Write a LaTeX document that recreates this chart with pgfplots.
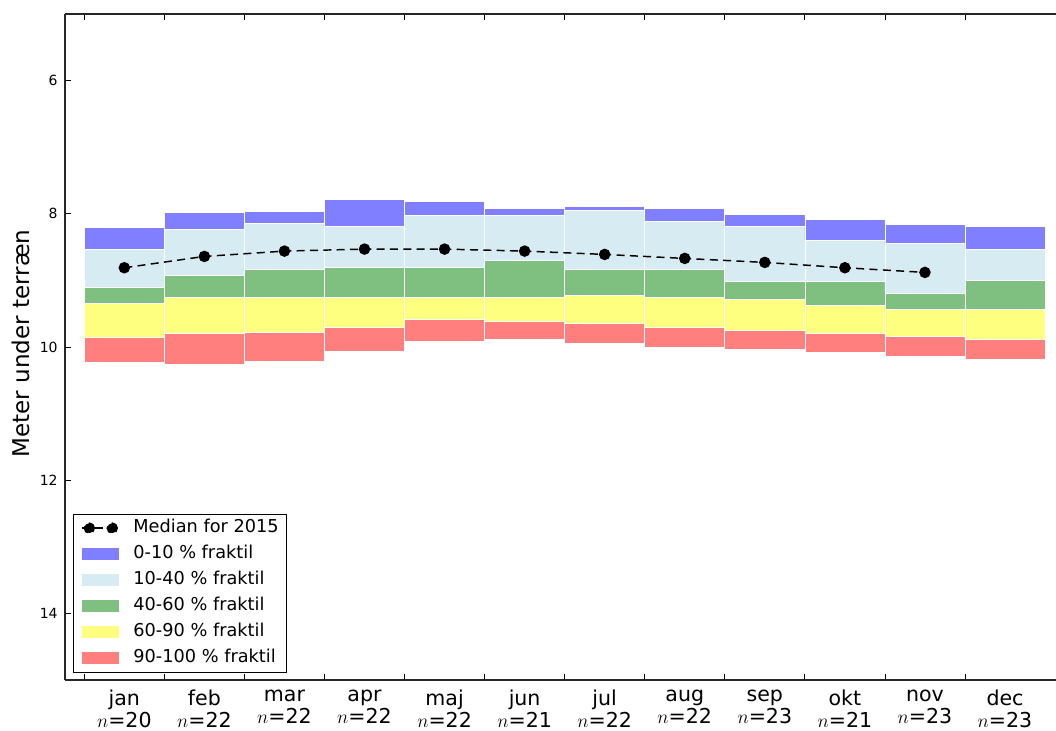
\documentclass[border=0pt]{standalone}
\usepackage{fontspec}
\setmainfont{DejaVu Sans}
\usepackage{pgfplots}
\usepackage{pgfplotstable}
\pgfplotsset{compat=1.18}
\definecolor{cblue}{RGB}{127,127,255}
\definecolor{clight}{RGB}{214,235,242}
\definecolor{cgreen}{RGB}{127,191,127}
\definecolor{cyellow}{RGB}{255,255,127}
\definecolor{cred}{RGB}{255,127,127}

\pgfplotstableread{
x    top  b1   b2   b3   b4   bot
0.5  8.20 8.54 9.10 9.35 9.85 10.23
1.5  7.98 8.24 8.93 9.26 9.80 10.26
2.5  7.97 8.14 8.83 9.26 9.78 10.21
3.5  7.79 8.19 8.81 9.25 9.70 10.06
4.5  7.82 8.02 8.80 9.25 9.59 9.91
5.5  7.92 8.02 8.70 9.25 9.62 9.89
6.5  7.89 7.95 8.84 9.23 9.64 9.95
7.5  7.92 8.11 8.84 9.26 9.70 10.01
8.5  8.01 8.19 9.01 9.28 9.75 10.04
9.5  8.09 8.40 9.02 9.38 9.80 10.08
10.5 8.16 8.44 9.20 9.43 9.84 10.14
11.5 8.19 8.53 9.00 9.43 9.89 10.18
}\bands

\begin{document}
\begin{tikzpicture}
\begin{axis}[
  scale only axis, width=743.25pt, height=499.5pt,
  xmin=-0.241, xmax=12.137, ymin=5, ymax=15, y dir=reverse,
  axis x line*=box, axis y line*=left,
  axis on top,
  xtick={0,...,11}, xticklabels={},
  ytick={6,8,10,12,14},
  tick align=inside, major tick length=4.5pt,
  tick style={black, line width=0.6pt},
  axis line style={line width=1pt, black!85},
  extra x ticks={0.5,1.5,...,11.5},
  extra x tick labels={{jan\\$n$=20},{feb\\$n$=22},{mar\\$n$=22},{apr\\$n$=22},{maj\\$n$=22},{jun\\$n$=21},{jul\\$n$=22},{aug\\$n$=22},{sep\\$n$=23},{okt\\$n$=21},{nov\\$n$=23},{dec\\$n$=23}},
  extra x tick style={major tick length=0pt, tick label style={align=center, yshift=-4pt, font=\fontsize{15.4}{16.5}\selectfont}},
  yticklabel style={font=\fontsize{10.5}{12}\selectfont, xshift=-2pt},
  /pgf/number format/assume math mode=true,
  ylabel={Meter under terræn},
  ylabel style={at={(axis description cs:-0.0444,0.505)}, anchor=center, font=\fontsize{17.3}{20}\selectfont},
  reverse legend,
  legend style={at={(axis description cs:0,0)}, anchor=south west, xshift=5.8pt, yshift=5.5pt,
    draw=black, line width=0.8pt, font=\fontsize{13.3}{16}\selectfont,
    inner xsep=6pt, inner ysep=4pt, column sep=11pt, row sep=6.5pt,
    nodes={inner sep=0pt, text height=10pt, text depth=3pt}},
  legend cell align=left,
]
\addplot[ybar, bar width=1, bar shift=0pt, fill=cred, draw=white, line width=0.5pt,
  legend image code/.code={\fill[cred] (0pt,-4pt) rectangle (27pt,4pt);}]
  table[x=x,y=bot]{\bands};
\addlegendentry{90-100 \% fraktil}
\addplot[ybar, bar width=1, bar shift=0pt, fill=cyellow, draw=white, line width=0.5pt,
  legend image code/.code={\fill[cyellow] (0pt,-4pt) rectangle (27pt,4pt);}]
  table[x=x,y=b4]{\bands};
\addlegendentry{60-90 \% fraktil}
\addplot[ybar, bar width=1, bar shift=0pt, fill=cgreen, draw=white, line width=0.5pt,
  legend image code/.code={\fill[cgreen] (0pt,-4pt) rectangle (27pt,4pt);}]
  table[x=x,y=b3]{\bands};
\addlegendentry{40-60 \% fraktil}
\addplot[ybar, bar width=1, bar shift=0pt, fill=clight, draw=white, line width=0.5pt,
  legend image code/.code={\fill[clight] (0pt,-4pt) rectangle (27pt,4pt);}]
  table[x=x,y=b2]{\bands};
\addlegendentry{10-40 \% fraktil}
\addplot[ybar, bar width=1, bar shift=0pt, fill=cblue, draw=white, line width=0.5pt,
  legend image code/.code={\fill[cblue] (0pt,-4pt) rectangle (27pt,4pt);}]
  table[x=x,y=b1]{\bands};
\addlegendentry{0-10 \% fraktil}
\addplot[ybar, bar width=1, bar shift=0pt, fill=white, draw=white, line width=0.5pt, forget plot]
  table[x=x,y=top]{\bands};
\addplot[black, line width=1.1pt, dash pattern=on 6pt off 4pt, mark=*, mark size=3.75pt, mark options={solid},
  legend image code/.code={\draw[black, line width=1.1pt, dash pattern=on 6pt off 4pt] (0pt,0pt) -- (27pt,0pt); \fill[black] (5.5pt,0pt) circle (3.75pt); \fill[black] (22.7pt,0pt) circle (3.75pt);}]
  coordinates {(0.5,8.81) (1.5,8.64) (2.5,8.56) (3.5,8.53) (4.5,8.53) (5.5,8.56) (6.5,8.61) (7.5,8.67) (8.5,8.73) (9.5,8.81) (10.5,8.88)};
\addlegendentry{Median for 2015}
\end{axis}
\pgfresetboundingbox
\path[use as bounding box] ([xshift=-48.75pt,yshift=-38.25pt]current axis.south west) rectangle ([yshift=10.5pt]current axis.north east);
\end{tikzpicture}
\end{document}
